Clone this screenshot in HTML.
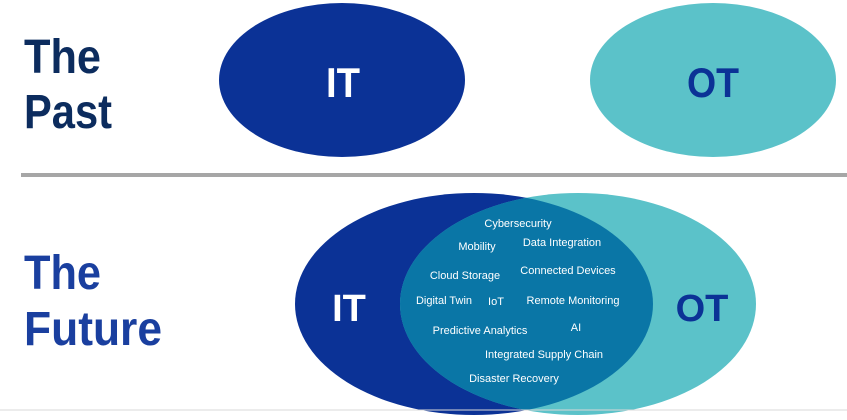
<!DOCTYPE html>
<html><head><meta charset="utf-8"><style>
html,body{margin:0;padding:0;background:#fff;}
svg{display:block;}
</style></head><body>
<svg width="847" height="420" viewBox="0 0 847 420" xmlns="http://www.w3.org/2000/svg" font-family="Liberation Sans, sans-serif">
<rect width="847" height="420" fill="#fff"/>
<text x="24" y="73" font-size="48" font-weight="bold" fill="#0c2c5e" textLength="77" lengthAdjust="spacingAndGlyphs">The</text>
<text x="24" y="128" font-size="48" font-weight="bold" fill="#0c2c5e" textLength="88" lengthAdjust="spacingAndGlyphs">Past</text>
<ellipse cx="342" cy="80" rx="123" ry="77" fill="#0b3296"/>
<ellipse cx="713" cy="80" rx="123" ry="77" fill="#5bc2c9"/>
<text x="326" y="97" font-size="42" font-weight="bold" fill="#fff" textLength="34" lengthAdjust="spacingAndGlyphs">IT</text>
<text x="687" y="97" font-size="42" font-weight="bold" fill="#0b3296" textLength="52" lengthAdjust="spacingAndGlyphs">OT</text>
<rect x="21" y="173" width="826" height="4" fill="#a6a6a6"/>
<text x="24" y="289" font-size="48" font-weight="bold" fill="#1a3f9f" textLength="77" lengthAdjust="spacingAndGlyphs">The</text>
<text x="24" y="345" font-size="48" font-weight="bold" fill="#1a3f9f" textLength="138" lengthAdjust="spacingAndGlyphs">Future</text>
<defs><clipPath id="c"><ellipse cx="474" cy="304" rx="179" ry="111"/></clipPath></defs>
<ellipse cx="474" cy="304" rx="179" ry="111" fill="#0b3296"/>
<ellipse cx="578" cy="304" rx="178" ry="111" fill="#5bc2c9"/>
<ellipse cx="578" cy="304" rx="178" ry="111" fill="#0a76a6" clip-path="url(#c)"/>
<line x1="0" y1="410" x2="847" y2="410" stroke="#d8d8d8" stroke-width="1"/>
<text x="349" y="321" font-size="38" font-weight="bold" fill="#fff" text-anchor="middle">IT</text>
<text x="702" y="321" font-size="38" font-weight="bold" fill="#0b3296" text-anchor="middle">OT</text>
<g font-size="11" fill="#fff" text-anchor="middle">
<text x="518" y="227">Cybersecurity</text>
<text x="477" y="250">Mobility</text>
<text x="562" y="246">Data Integration</text>
<text x="465" y="279">Cloud Storage</text>
<text x="568" y="274">Connected Devices</text>
<text x="444" y="304">Digital Twin</text>
<text x="496" y="305">IoT</text>
<text x="573" y="304">Remote Monitoring</text>
<text x="480" y="334">Predictive Analytics</text>
<text x="576" y="331">AI</text>
<text x="544" y="358">Integrated Supply Chain</text>
<text x="514" y="382">Disaster Recovery</text>
</g>
</svg>
</body></html>
